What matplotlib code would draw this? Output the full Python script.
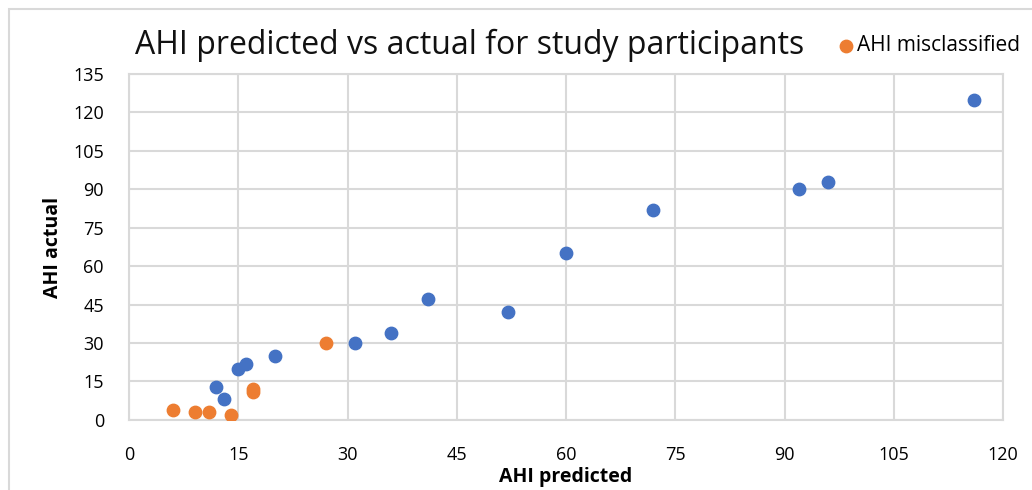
import matplotlib.pyplot as plt
from matplotlib.patches import Rectangle

# AHI values
correct_pred = [116, 96, 92, 72, 60, 52, 41, 36, 31, 20, 16, 15, 12, 13]
correct_actual = [125, 93, 90, 82, 65, 42, 47, 34, 30, 25, 22, 20, 13, 8]

miss_pred = [6, 9, 11, 14, 17, 17, 27]
miss_actual = [4, 3, 3, 2, 12, 11, 30]

x_ticks = [0, 15, 30, 45, 60, 75, 90, 105, 120]
y_ticks = [0, 15, 30, 45, 60, 75, 90, 105, 120, 135]

plt.rcParams['font.family'] = ['Open Sans', 'DejaVu Sans']

fig = plt.figure(figsize=(10.32, 4.9), dpi=100)
ax = fig.add_axes([0.125, 0.143, 0.847, 0.706])

# outer chart frame, like the Excel chart area border
fig.patches.append(Rectangle((9 / 1032, -0.1), 1.2, 1 - 9 / 490 + 0.1,
                             transform=fig.transFigure, fill=False,
                             edgecolor='#d9d9d9', linewidth=1.5))

ax.scatter(correct_pred, correct_actual, s=80, color='#4472C4', zorder=3)
sc = ax.scatter(miss_pred, miss_actual, s=80, color='#ED7D31', zorder=3,
                label='AHI misclassified')

ax.set_xlim(0, 120)
ax.set_ylim(0, 135)
ax.set_xticks(x_ticks)
ax.set_yticks(y_ticks)
ax.grid(True, color='#d9d9d9', linewidth=1.5)
ax.set_axisbelow(True)
for s in ax.spines.values():
    s.set_color('#d9d9d9')
    s.set_linewidth(1.5)
ax.tick_params(length=0, labelsize=13, colors='black')
ax.tick_params(axis='y', pad=18)
ax.tick_params(axis='x', pad=19)

ax.set_xlabel('AHI predicted', fontsize=14, fontweight='bold')
ax.set_ylabel('AHI actual', fontsize=14, fontweight='bold')
ax.xaxis.set_label_coords(0.5, -0.135)
ax.yaxis.set_label_coords(-0.087, 0.5)
ax.yaxis.label.set_verticalalignment('center')

fig.text(0.455, 0.908, 'AHI predicted vs actual for study participants',
         ha='center', va='center', fontsize=23, color='#111111')

ax.legend(handles=[sc], loc='center left', bbox_to_anchor=(0.8097, 0.9065),
          bbox_transform=fig.transFigure, frameon=False, fontsize=15,
          handlelength=1.0, handletextpad=0.05, markerscale=1.0,
          borderpad=0, borderaxespad=0)

fig.savefig('out.png', dpi=100)
